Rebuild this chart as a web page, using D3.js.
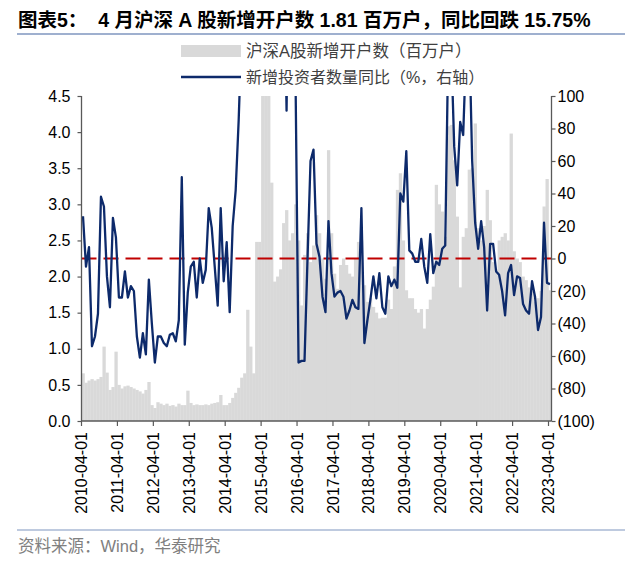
<!DOCTYPE html>
<html><head><meta charset="utf-8">
<script src="https://cdn.jsdelivr.net/npm/d3@7"></script>
<style>
body{margin:0;background:#fff;}
svg{display:block;}
</style></head>
<body>
<svg id="chart" width="640" height="562"></svg>
<script>
// ---- data ----
const startMonth = "2010-04";
const tickLabels = ["2010-04-01","2011-04-01","2012-04-01","2013-04-01","2014-04-01","2015-04-01","2016-04-01","2017-04-01","2018-04-01","2019-04-01","2020-04-01","2021-04-01","2022-04-01","2023-04-01"];
const leftTicks = [0,0.5,1,1.5,2,2.5,3,3.5,4,4.5];
const rightTicks = [-100,-80,-60,-40,-20,0,20,40,60,80,100];
// 沪深A股新增开户数（百万户）, monthly from 2010-04
const accounts = [
 0.66,0.53,0.56,0.58,0.56,0.58,0.61,1.03,0.67,0.43,0.47,0.96,
 0.50,0.45,0.48,0.49,0.47,0.45,0.43,0.41,0.38,0.43,0.54,0.22,
 0.18,0.26,0.24,0.22,0.24,0.21,0.22,0.20,0.24,0.22,0.22,0.42,
 0.25,0.22,0.23,0.22,0.22,0.23,0.22,0.24,0.25,0.26,0.36,0.22,
 0.22,0.25,0.32,0.39,0.46,0.60,0.66,1.54,1.03,0.66,2.48,2.48,
 4.6,4.6,4.6,3.3,1.93,2.0,2.1,2.74,2.92,2.5,2.6,3.0,
 2.5,1.6,2.3,2.6,2.2,2.43,2.85,2.6,2.25,1.97,3.75,2.6,
 2.04,1.83,2.16,2.25,2.16,2.04,2.0,2.25,2.48,2.5,1.88,1.65,
 1.7,1.58,1.5,1.42,1.43,1.43,1.68,1.55,2.14,3.2,3.43,2.5,
 1.81,1.7,1.7,1.55,1.5,1.55,1.28,1.55,1.68,1.86,3.27,3.0,
 2.9,2.55,4.08,4.1,3.61,2.83,1.85,2.55,2.67,3.48,3.5,4.12,
 2.67,2.5,2.7,3.2,2.78,2.2,2.1,2.5,2.55,2.6,2.5,3.98,
 2.35,2.25,2.2,2.0,1.95,1.85,1.8,1.65,1.7,1.8,2.97,3.35,
 1.81
];
// 新增投资者数量同比（%，右轴）
const yoy = [
 26,-5,7,-54,-48,-34,38,32,-11,-30,25,13,
 -24,-24,-8,-24,-17,-20,-48,-61,-46,-59,-13,-40,
 -64,-48,-48,-52,-54,-47,-46,-51,-38,50,-53,-21,
 -5,-2,-24,0,-15,-7,31,19,-5,-29,31,-14,
 10,-33,20,42,85,140,180,220,260,300,350,400,
 420,380,300,250,200,180,150,200,91,250,200,110,
 -64,-63,-63,0,60,67,9,1,-23.5,-33,23,-9,
 -23.5,-21,-20,-23.5,-37,-32,-25.5,-30,-31,31,-52,-38,
 -25.5,-11,-24.5,-9,-30,-34,-11,-17,-13,-18,40,35,
 66,5,3,-2,-2,12,-5,-15,15,-9,-2,-4,
 6,8,130,130,69,45,84,76,130,140,60,22,
 6,23,7,-32,9,9,-8,-10,-20,-35,-9,-4,
 -22.5,-11,-12,-28,-32,-34,-14,-23.5,-44,-36,22,-15,
 -15.75
];
const title = "图表5：  4 月沪深 A 股新增开户数 1.81 百万户，同比回跌 15.75%";
const legendBar = "沪深A股新增开户数（百万户）";
const legendLine = "新增投资者数量同比（%，右轴）";
const source = "资料来源：Wind，华泰研究";

// ---- chart ----
const svg = d3.select("#chart");
const parse = d3.timeParse("%Y-%m");
const months = d3.range(accounts.length).map(i => d3.timeFormat("%Y-%m-01")(d3.timeMonth.offset(parse(startMonth), i)));

const L = 81.5, R = 551.5, T = 96, B = 421;
const x = d3.scaleBand().domain(months).range([L, R]).padding(0);
const yL = d3.scaleLinear().domain([0, 4.5]).range([B, T]);
const yR = d3.scaleLinear().domain([-100, 100]).range([B, T]);

const fontNum = "'Liberation Sans', Arial, sans-serif";
const fontCJK = "'Liberation Sans', 'Noto Sans CJK SC', sans-serif";

// title
svg.append("text").attr("x", 18).attr("y", 27)
  .attr("font-family", fontCJK).attr("font-weight", "bold").attr("font-size", 19.5)
  .attr("fill", "#000").attr("xml:space","preserve").text(title);
svg.append("line").attr("x1", 17).attr("x2", 625).attr("y1", 34).attr("y2", 34)
  .attr("stroke", "#7f96bf").attr("stroke-width", 1.5);

// legend
svg.append("rect").attr("x", 181).attr("y", 45).attr("width", 60).attr("height", 12).attr("fill", "#d9d9d9");
svg.append("text").attr("x", 246).attr("y", 57).attr("font-family", fontCJK).attr("font-size", 16.5)
  .attr("fill", "#404040").text(legendBar);
svg.append("line").attr("x1", 181).attr("x2", 241).attr("y1", 77).attr("y2", 77)
  .attr("stroke", "#0d2a6b").attr("stroke-width", 2.5);
svg.append("text").attr("x", 246).attr("y", 83).attr("font-family", fontCJK).attr("font-size", 16)
  .attr("fill", "#404040").text(legendLine);

// clip
svg.append("defs").append("clipPath").attr("id", "plot")
  .append("rect").attr("x", L).attr("y", T).attr("width", R - L).attr("height", B - T);

const g = svg.append("g").attr("clip-path", "url(#plot)");
g.selectAll("rect.bar").data(accounts).join("rect").attr("class", "bar")
  .attr("x", (d, i) => x(months[i]))
  .attr("width", x.bandwidth() + 0.3)
  .attr("y", d => yL(Math.min(d, 4.6)))
  .attr("height", d => B - yL(Math.min(d, 4.6)))
  .attr("fill", "#d9d9d9");

// zero line (right axis)
g.append("line").attr("x1", L).attr("x2", R).attr("y1", yR(0)).attr("y2", yR(0))
  .attr("stroke", "#c00000").attr("stroke-width", 2.2).attr("stroke-dasharray", "15,7");

const line = d3.line().x((d, i) => x(months[i]) + x.bandwidth() / 2).y(d => yR(d));
g.append("path").datum(yoy).attr("d", line).attr("fill", "none")
  .attr("stroke", "#0d2a6b").attr("stroke-width", 2.3).attr("stroke-linejoin", "round");

// axes
const axisColor = "#595959";
const gl = svg.append("g").attr("transform", `translate(${L},0)`)
  .call(d3.axisLeft(yL).tickValues(leftTicks).tickFormat(d3.format(".1f")).tickSize(4).tickPadding(7));
const gr = svg.append("g").attr("transform", `translate(${R},0)`)
  .call(d3.axisRight(yR).tickValues(rightTicks).tickFormat(d => d < 0 ? `(${-d})` : d).tickSize(4).tickPadding(2));
const tickMonths = tickLabels.map(s => s.slice(0, 7) + "-01");
const gb = svg.append("g").attr("transform", `translate(0,${B})`)
  .call(d3.axisBottom(x).tickValues(tickMonths).tickSize(5).tickPadding(4));
gb.selectAll(".tick").attr("transform", d => `translate(${x(d)},0)`);
gb.selectAll(".tick text").attr("transform", "rotate(-90)").attr("text-anchor", "end")
  .attr("x", -11).attr("y", 0).attr("dy", "0.35em");

[gl, gr, gb].forEach(a => {
  a.selectAll("path.domain").attr("stroke", axisColor).attr("stroke-width", 1.3);
  a.selectAll(".tick line").attr("stroke", axisColor).attr("stroke-width", 1.2);
  a.selectAll(".tick text").attr("font-family", fontNum).attr("font-size", 16).attr("fill", "#000");
});
gl.select("path.domain").attr("d", `M0,${T}V${B}`);
gr.select("path.domain").attr("d", `M0,${T}V${B}`);
gb.select("path.domain").attr("d", `M${L},0H${R}`);

// source
svg.append("line").attr("x1", 17).attr("x2", 625).attr("y1", 530).attr("y2", 530)
  .attr("stroke", "#7f96bf").attr("stroke-width", 1.2);
svg.append("text").attr("x", 18).attr("y", 552).attr("font-family", fontCJK).attr("font-size", 16.5)
  .attr("fill", "#808080").text(source);
</script>
</body></html>
